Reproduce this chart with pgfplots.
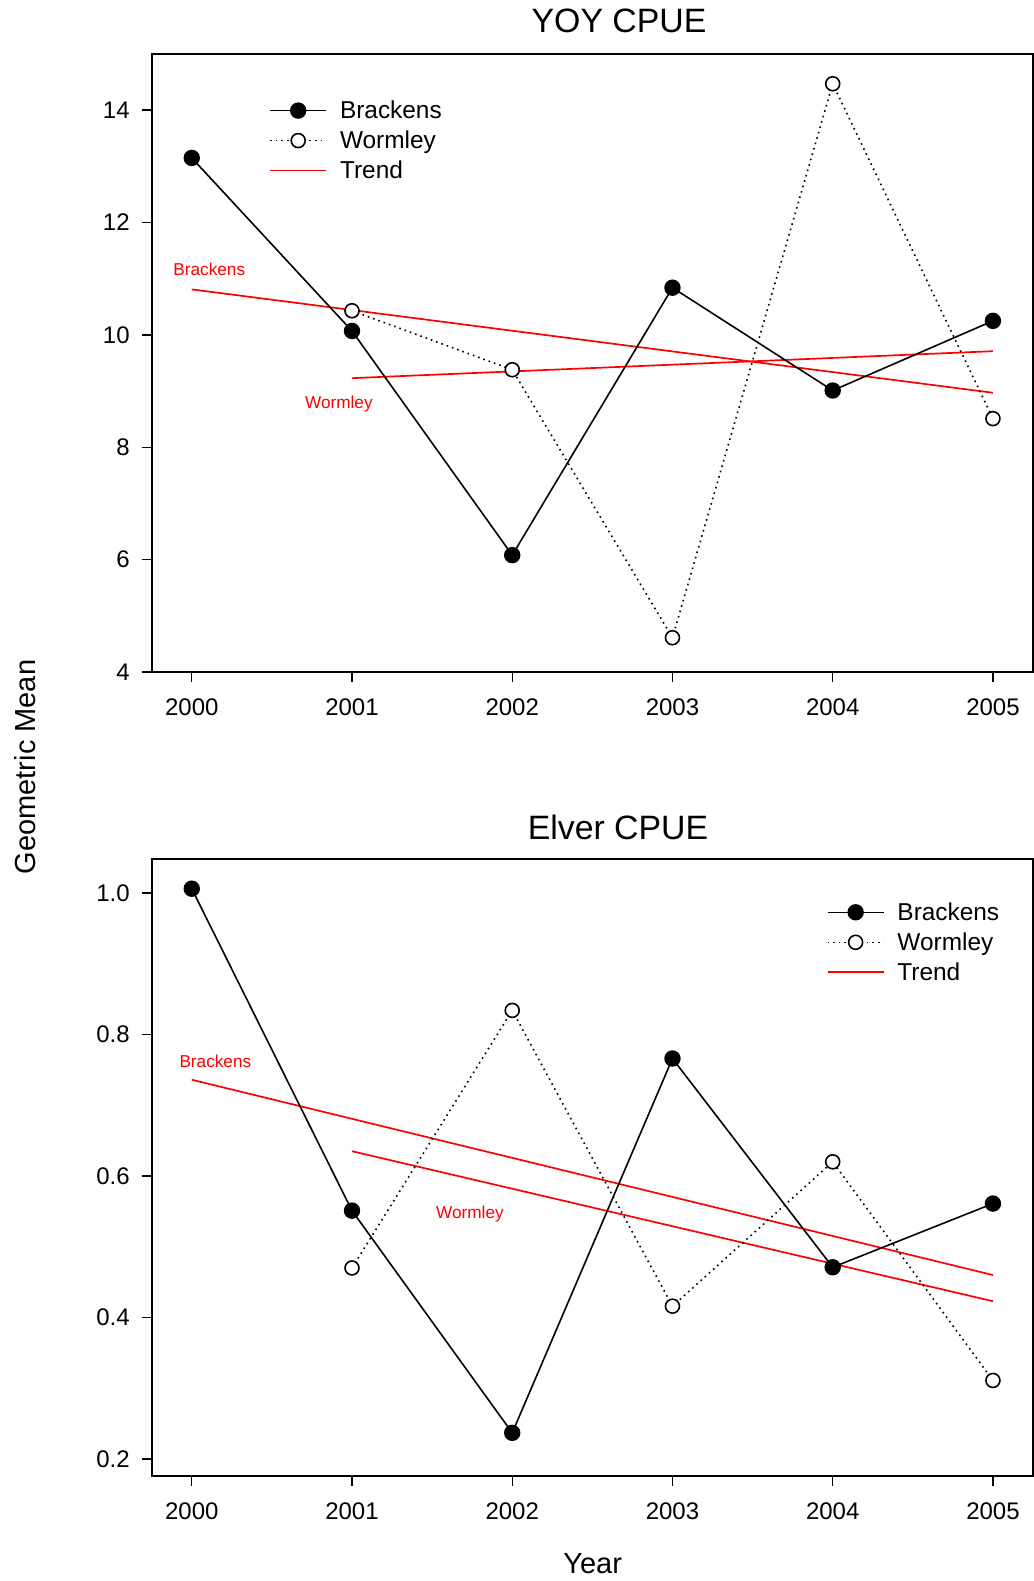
\documentclass[border=0pt]{standalone}
\usepackage{pgfplots}
\pgfplotsset{compat=1.18}
\usepackage{fontspec}
\setmainfont{Liberation Sans}
\begin{document}
\begin{tikzpicture}
\path[use as bounding box] (0,0) rectangle (517bp,790.5bp);
\pgfplotsset{
  myaxis/.style={
    scale only axis, anchor=south west,
    width=440.65bp,
    xmin=1999.75, xmax=2005.25,
    xtick={2000,2001,2002,2003,2004,2005},
    xticklabel style={/pgf/number format/1000 sep={}, inner sep=0pt, yshift=-8bp},
    yticklabel style={inner sep=0pt, xshift=-5.85bp},
    /pgf/number format/assume math mode=true,
    tick label style={font=\fontsize{12bp}{14bp}\selectfont},
    tick align=outside, major tick length=5bp,
    xtick pos=bottom, ytick pos=left,
    axis line style={line width=0.8bp},
    major tick style={line width=0.7bp, black},
    legend image code/.code={\draw[mark repeat=2,mark phase=2,yshift=1bp,##1] plot coordinates {(0bp,0bp) (14bp,0bp) (28bp,0bp)};},
    legend style={draw=none, fill=none, inner sep=0pt, outer sep=0pt, row sep=3bp, column sep=6.5bp,
      font=\fontsize{12.2bp}{14bp}\selectfont, anchor=north west,
      nodes={inner sep=0pt, text height=9bp, text depth=3bp}},
    legend cell align=left,
  },
  brk/.style={black, line width=0.8bp, mark=*, mark size=3.7bp, mark options={solid, fill=black}},
  wml/.style={black, line width=0.8bp, dash pattern=on 0.8bp off 2.0bp, mark=*, mark size=3.5bp, mark options={solid, fill=white, line width=0.8bp}},
  trd/.style={red, line width=0.85bp},
}
% Top panel
\begin{axis}[myaxis, at={(75.85bp,454.5bp)}, height=309bp,
  ymin=4, ymax=15, ytick={4,6,8,10,12,14},
  legend style={at={(0.1335,0.9246)}}]
\addplot[trd, forget plot] coordinates {(2000,10.81) (2005,8.97)};
\addplot[trd, forget plot] coordinates {(2001,9.23) (2005,9.71)};
\addplot[brk] coordinates {(2000,13.15) (2001,10.07) (2002,6.08) (2003,10.84) (2004,9.01) (2005,10.25)};
\addlegendentry{Brackens}
\addplot[wml] coordinates {(2001,10.43) (2002,9.38) (2003,4.61) (2004,14.47) (2005,8.51)};
\addlegendentry{Wormley}
\addlegendimage{trd}
\addlegendentry{Trend}
\node[red, anchor=base west, inner sep=0pt, font=\fontsize{8.6bp}{10bp}\selectfont] at (axis cs:1999.883,11.06) {Brackens};
\node[red, anchor=base west, inner sep=0pt, font=\fontsize{8.6bp}{10bp}\selectfont] at (axis cs:2000.705,8.69) {Wormley};
\end{axis}
% Bottom panel
\begin{axis}[myaxis, at={(75.85bp,52.5bp)}, height=308.5bp,
  ymin=0.176, ymax=1.048, ytick={0.2,0.4,0.6,0.8,1.0},
  yticklabel style={/pgf/number format/fixed, /pgf/number format/fixed zerofill, /pgf/number format/precision=1},
  legend style={at={(0.766,0.9298)}}]
\addplot[trd, forget plot] coordinates {(2000,0.736) (2005,0.460)};
\addplot[trd, forget plot] coordinates {(2001,0.635) (2005,0.423)};
\addplot[brk] coordinates {(2000,1.006) (2001,0.551) (2002,0.237) (2003,0.766) (2004,0.471) (2005,0.561)};
\addlegendentry{Brackens}
\addplot[wml] coordinates {(2001,0.470) (2002,0.834) (2003,0.416) (2004,0.620) (2005,0.311)};
\addlegendentry{Wormley}
\addlegendimage{trd}
\addlegendentry{Trend}
\node[red, anchor=base west, inner sep=0pt, font=\fontsize{8.6bp}{10bp}\selectfont] at (axis cs:1999.921,0.753) {Brackens};
\node[red, anchor=base west, inner sep=0pt, font=\fontsize{8.6bp}{10bp}\selectfont] at (axis cs:2001.523,0.540) {Wormley};
\end{axis}
% titles and labels
\node[anchor=base, inner sep=0pt, font=\fontsize{16.9bp}{20bp}\selectfont] at (309.5bp,774bp) {YOY CPUE};
\node[anchor=base, inner sep=0pt, font=\fontsize{16.9bp}{20bp}\selectfont] at (309bp,370.85bp) {Elver CPUE};
\node[anchor=base, inner sep=0pt, font=\fontsize{14.5bp}{17bp}\selectfont] at (296.3bp,4bp) {Year};
\node[anchor=center, rotate=90, inner sep=0pt, font=\fontsize{14.5bp}{17bp}\selectfont] at (12.5bp,407bp) {Geometric Mean};
\end{tikzpicture}
\end{document}
